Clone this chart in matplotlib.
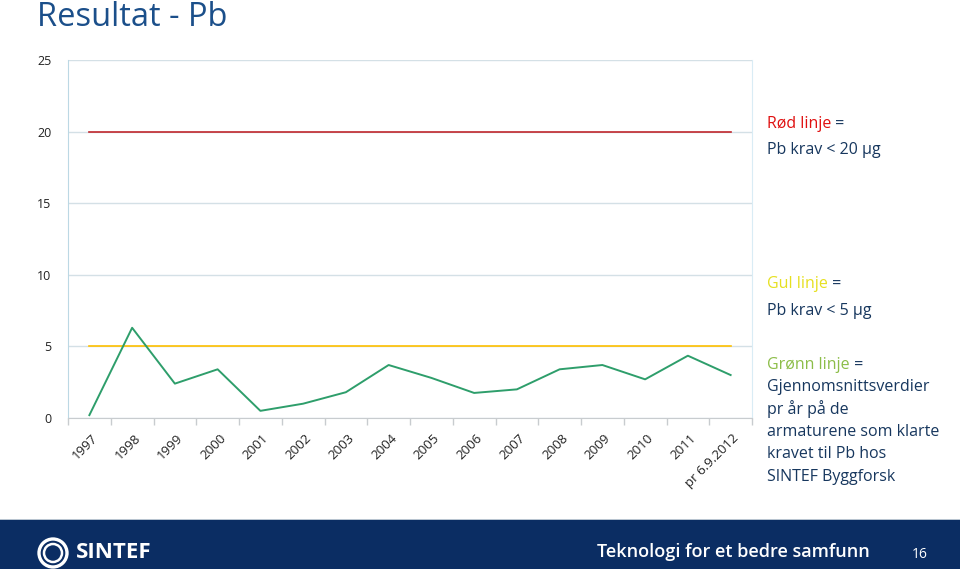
import matplotlib
matplotlib.use("Agg")
import matplotlib.pyplot as plt
from matplotlib.patches import Rectangle, Ellipse
import matplotlib.transforms as mtrans
import numpy as np

categories = ["1997", "1998", "1999", "2000", "2001", "2002", "2003", "2004",
              "2005", "2006", "2007", "2008", "2009", "2010", "2011", "pr 6.9.2012"]
green_values = [0.2, 6.3, 2.4, 3.4, 0.5, 1.0, 1.8, 3.7, 2.8, 1.75, 2.0, 3.4, 3.7, 2.7, 4.35, 3.0]
red_values = [20] * 16
yellow_values = [5] * 16
y_ticks = [0, 5, 10, 15, 20, 25]

plt.rcParams['font.family'] = ['Open Sans', 'DejaVu Sans']

W, H = 960, 569
fig = plt.figure(figsize=(W / 100, H / 100), dpi=100)

ax = fig.add_axes([68 / W, 1 - 418 / H, (752 - 68) / W, (418 - 60) / H])
x = np.arange(len(categories))
ax.plot(x, red_values, color="#c0282d", lw=1.2, zorder=3)
ax.plot(x, yellow_values, color="#ffc000", lw=1.2, zorder=3)
ax.plot(x, green_values, color="#2e9e6b", lw=1.4, zorder=4)

ax.set_xlim(-0.5, len(categories) - 0.5)
ax.set_ylim(0, 25)
ax.set_yticks(y_ticks)
ax.set_yticklabels([str(v) for v in y_ticks], fontsize=9, color="#222222")
ax.tick_params(axis="y", length=0, pad=12)
ax.yaxis.grid(True, color="#d4e0e6", lw=1)
ax.set_axisbelow(True)

ax.set_xticks(x)
ax.set_xticklabels(categories, rotation=45, ha="right", va="top",
                   rotation_mode="anchor", fontsize=9.5, color="#222222")
ax.tick_params(axis="x", which="major", length=0, pad=10)
ax.set_xticks(np.arange(-0.5, len(categories), 1.0), minor=True)
ax.tick_params(axis="x", which="minor", length=5, color="#c8cccf", width=1)
offset = mtrans.ScaledTranslation(1.5 / 100, 0, fig.dpi_scale_trans)
for lbl in ax.get_xticklabels():
    lbl.set_transform(lbl.get_transform() + offset)

ax.spines["left"].set_color("#bcd8e4")
ax.spines["right"].set_color("#d9ecf5")
ax.spines["top"].set_visible(False)
ax.spines["bottom"].set_color("#c8cccf")

# Title
fig.text(37 / W, 1 - 17 / H, "Resultat - Pb", fontsize=23.5, color="#1b4f8a",
         va="center", ha="left")

# Right-hand annotations
navy = "#17375e"
fs = 11.5
def colored_line(xp, yp, first, firstcolor, rest):
    t = fig.text(xp / W, 1 - yp / H, first, fontsize=fs, color=firstcolor, va="center", ha="left")
    fig.canvas.draw()
    bb = t.get_window_extent()
    fig.text(bb.x1 / W, 1 - yp / H, rest, fontsize=fs, color=navy, va="center", ha="left")

colored_line(767, 124, "Rød linje", "#e01010", " =")
fig.text(767 / W, 1 - 150 / H, "Pb krav < 20 µg", fontsize=fs, color=navy, va="center")
colored_line(767, 284, "Gul linje", "#e6e020", " =")
fig.text(767 / W, 1 - 311 / H, "Pb krav < 5 µg", fontsize=fs, color=navy, va="center")
colored_line(767, 365, "Grønn linje", "#8cbd48", " =")
body = ["Gjennomsnittsverdier", "pr år på de", "armaturene som klarte",
        "kravet til Pb hos", "SINTEF Byggforsk"]
for i, line in enumerate(body):
    fig.text(767 / W, 1 - (387 + i * 22.5) / H, line, fontsize=fs, color=navy, va="center")

# Bottom band
fig.patches.append(Rectangle((0, 0), 1, 49 / H, transform=fig.transFigure,
                             facecolor="#0b2d63", edgecolor="none", zorder=0))
fig.patches.append(Rectangle((0, 49 / H), 1, 1.5 / H, transform=fig.transFigure,
                             facecolor="#b8c4d0", edgecolor="none", zorder=0))
cx, cy = 53 / W, 1 - 553 / H
for r, lw in [(14, 2.4), (9, 1.8)]:
    fig.patches.append(Ellipse((cx, cy), 2 * r / W, 2 * r / H, transform=fig.transFigure,
                               facecolor="none", edgecolor="white", lw=lw, zorder=1))
fig.text(76 / W, 1 - 553 / H, "SINTEF", fontsize=16, fontweight="bold", color="white",
         va="center", ha="left")
fig.text(870 / W, 1 - 552 / H, "Teknologi for et bedre samfunn", fontsize=13,
         fontweight="semibold", color="white", va="center", ha="right")
fig.text(920 / W, 1 - 555 / H, "16", fontsize=10, color="white", va="center", ha="center")

fig.savefig("out.png", dpi=100)
